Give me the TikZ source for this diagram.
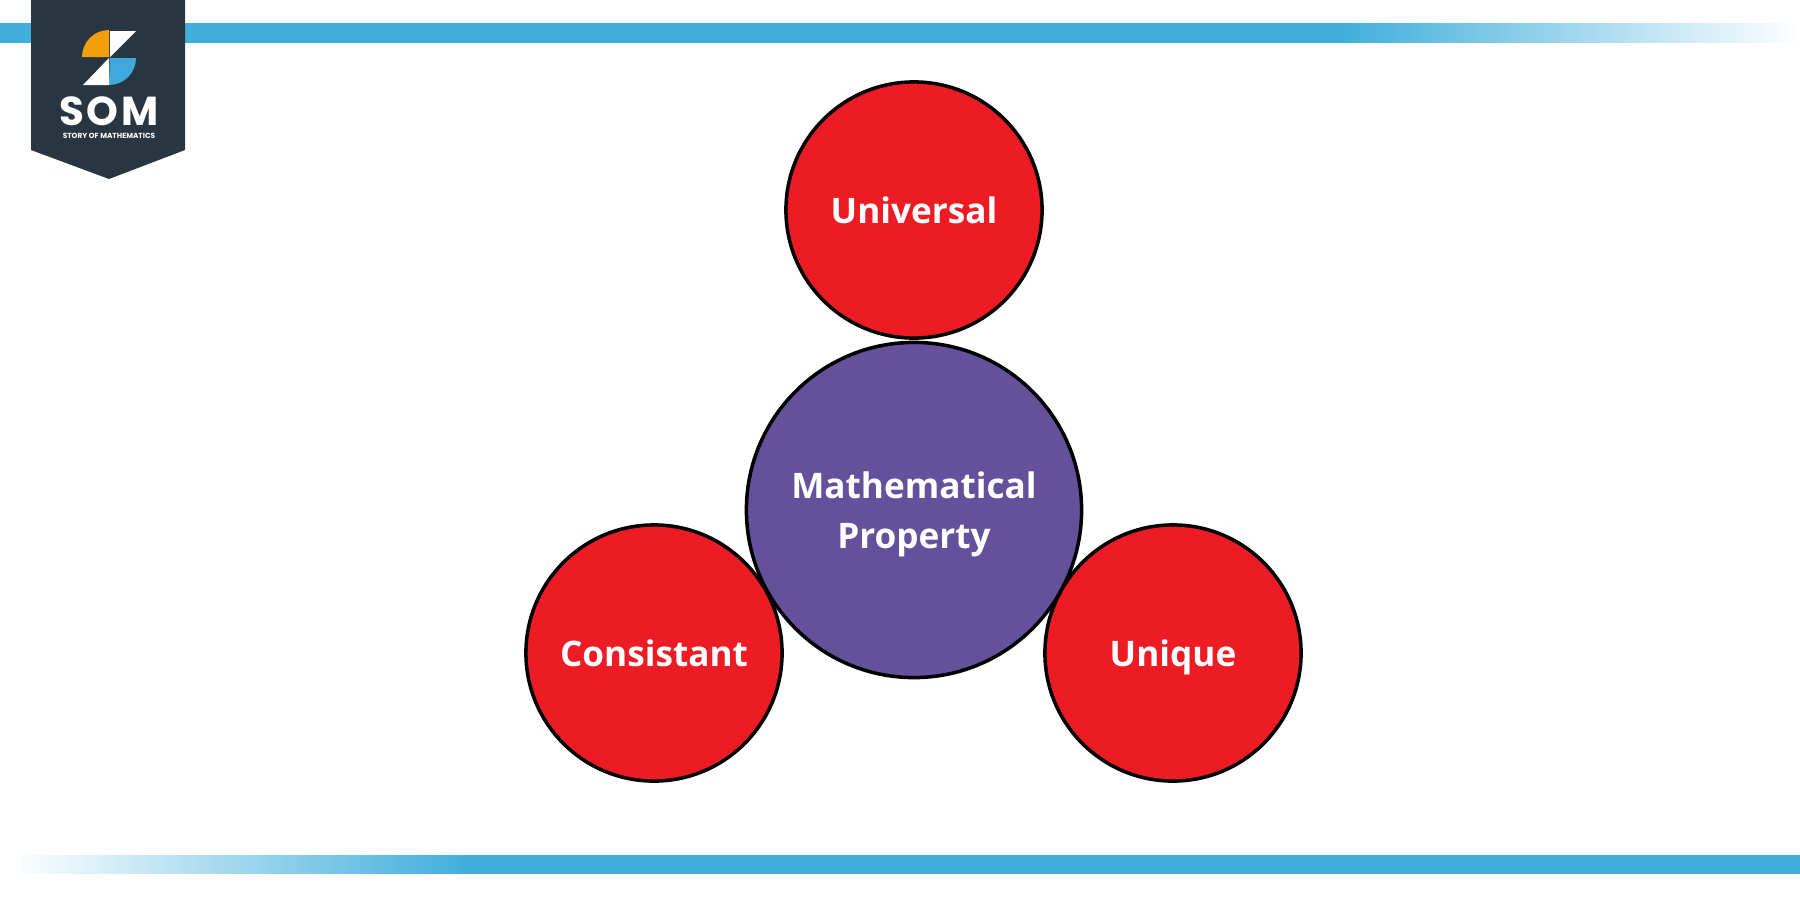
\documentclass[tikz,border=0pt]{standalone}
\usepackage{fontspec}
\setmainfont{Open Sans}
\newfontfamily\logofont{Poppins}
\definecolor{bandblue}{HTML}{3FAEDB}
\definecolor{logodark}{HTML}{283641}
\definecolor{logoorange}{HTML}{F59E0B}
\definecolor{logoblue}{HTML}{3FA9DC}
\definecolor{discred}{HTML}{ED1C24}
\definecolor{discpurple}{HTML}{65509B}
\pgfdeclarehorizontalshading{topband}{100bp}{color(0bp)=(bandblue); color(62.2bp)=(bandblue); color(75bp)=(white); color(100bp)=(white)}
\pgfdeclarehorizontalshading{bottomband}{100bp}{color(0bp)=(white); color(25.3bp)=(white); color(38bp)=(bandblue); color(100bp)=(bandblue)}
\begin{document}
\begin{tikzpicture}[x=0.01cm,y=0.01cm]
\tikzstyle{every node}+=[inner sep=0pt]
\tikzstyle{disc}=[circle,draw=black,line width=1pt,text=white,font=\fontsize{10}{14.2}\selectfont\bfseries,align=center]
\tikzstyle{small disc}=[disc,fill=discred,minimum size=2.56cm]
\tikzstyle{big disc}=[disc,fill=discpurple,minimum size=3.35cm]
\useasboundingbox (0,0) rectangle (1800,-900);
\fill [white] (0,0) rectangle (1800,-900);
% bands
\shade [shading=topband] (0,-23) rectangle (1800,-42);
\shade [shading=bottomband] (0,-855) rectangle (1800,-873);
% logo
\fill [logodark] (31,0) -- (185,0) -- (185,-150) -- (109,-179) -- (31,-150) -- cycle;
\fill [logoorange] (109,-57) -- (82,-57) arc (180:90:27) -- cycle;
\fill [white] (110,-31) -- (136,-31) -- (110,-57) -- cycle;
\fill [logoblue] (110,-58) -- (136,-58) arc (0:-90:27) -- cycle;
\fill [white] (109,-58) -- (109,-85) -- (83,-85) -- cycle;
\node (som) at (109,-111) {\logofont\addfontfeature{LetterSpace=6}\fontsize{11.5}{12}\selectfont\bfseries\color{white}SOM};
\node (story) at (109,-135.5) {\logofont\fontsize{2.1}{2.2}\selectfont\bfseries\color{white}STORY OF MATHEMATICS};
% discs
\node [small disc] (universal) at (914,-210) {Universal};
\node [big disc] (property) at (914,-510) {Mathematical\\\raisebox{0pt}[\height][0pt]{Property}};
\node [small disc] (consistant) at (654,-653) {Consistant};
\node [small disc] (unique) at (1173,-653) {\raisebox{0pt}[\height][0pt]{Unique}};
\end{tikzpicture}
\end{document}
